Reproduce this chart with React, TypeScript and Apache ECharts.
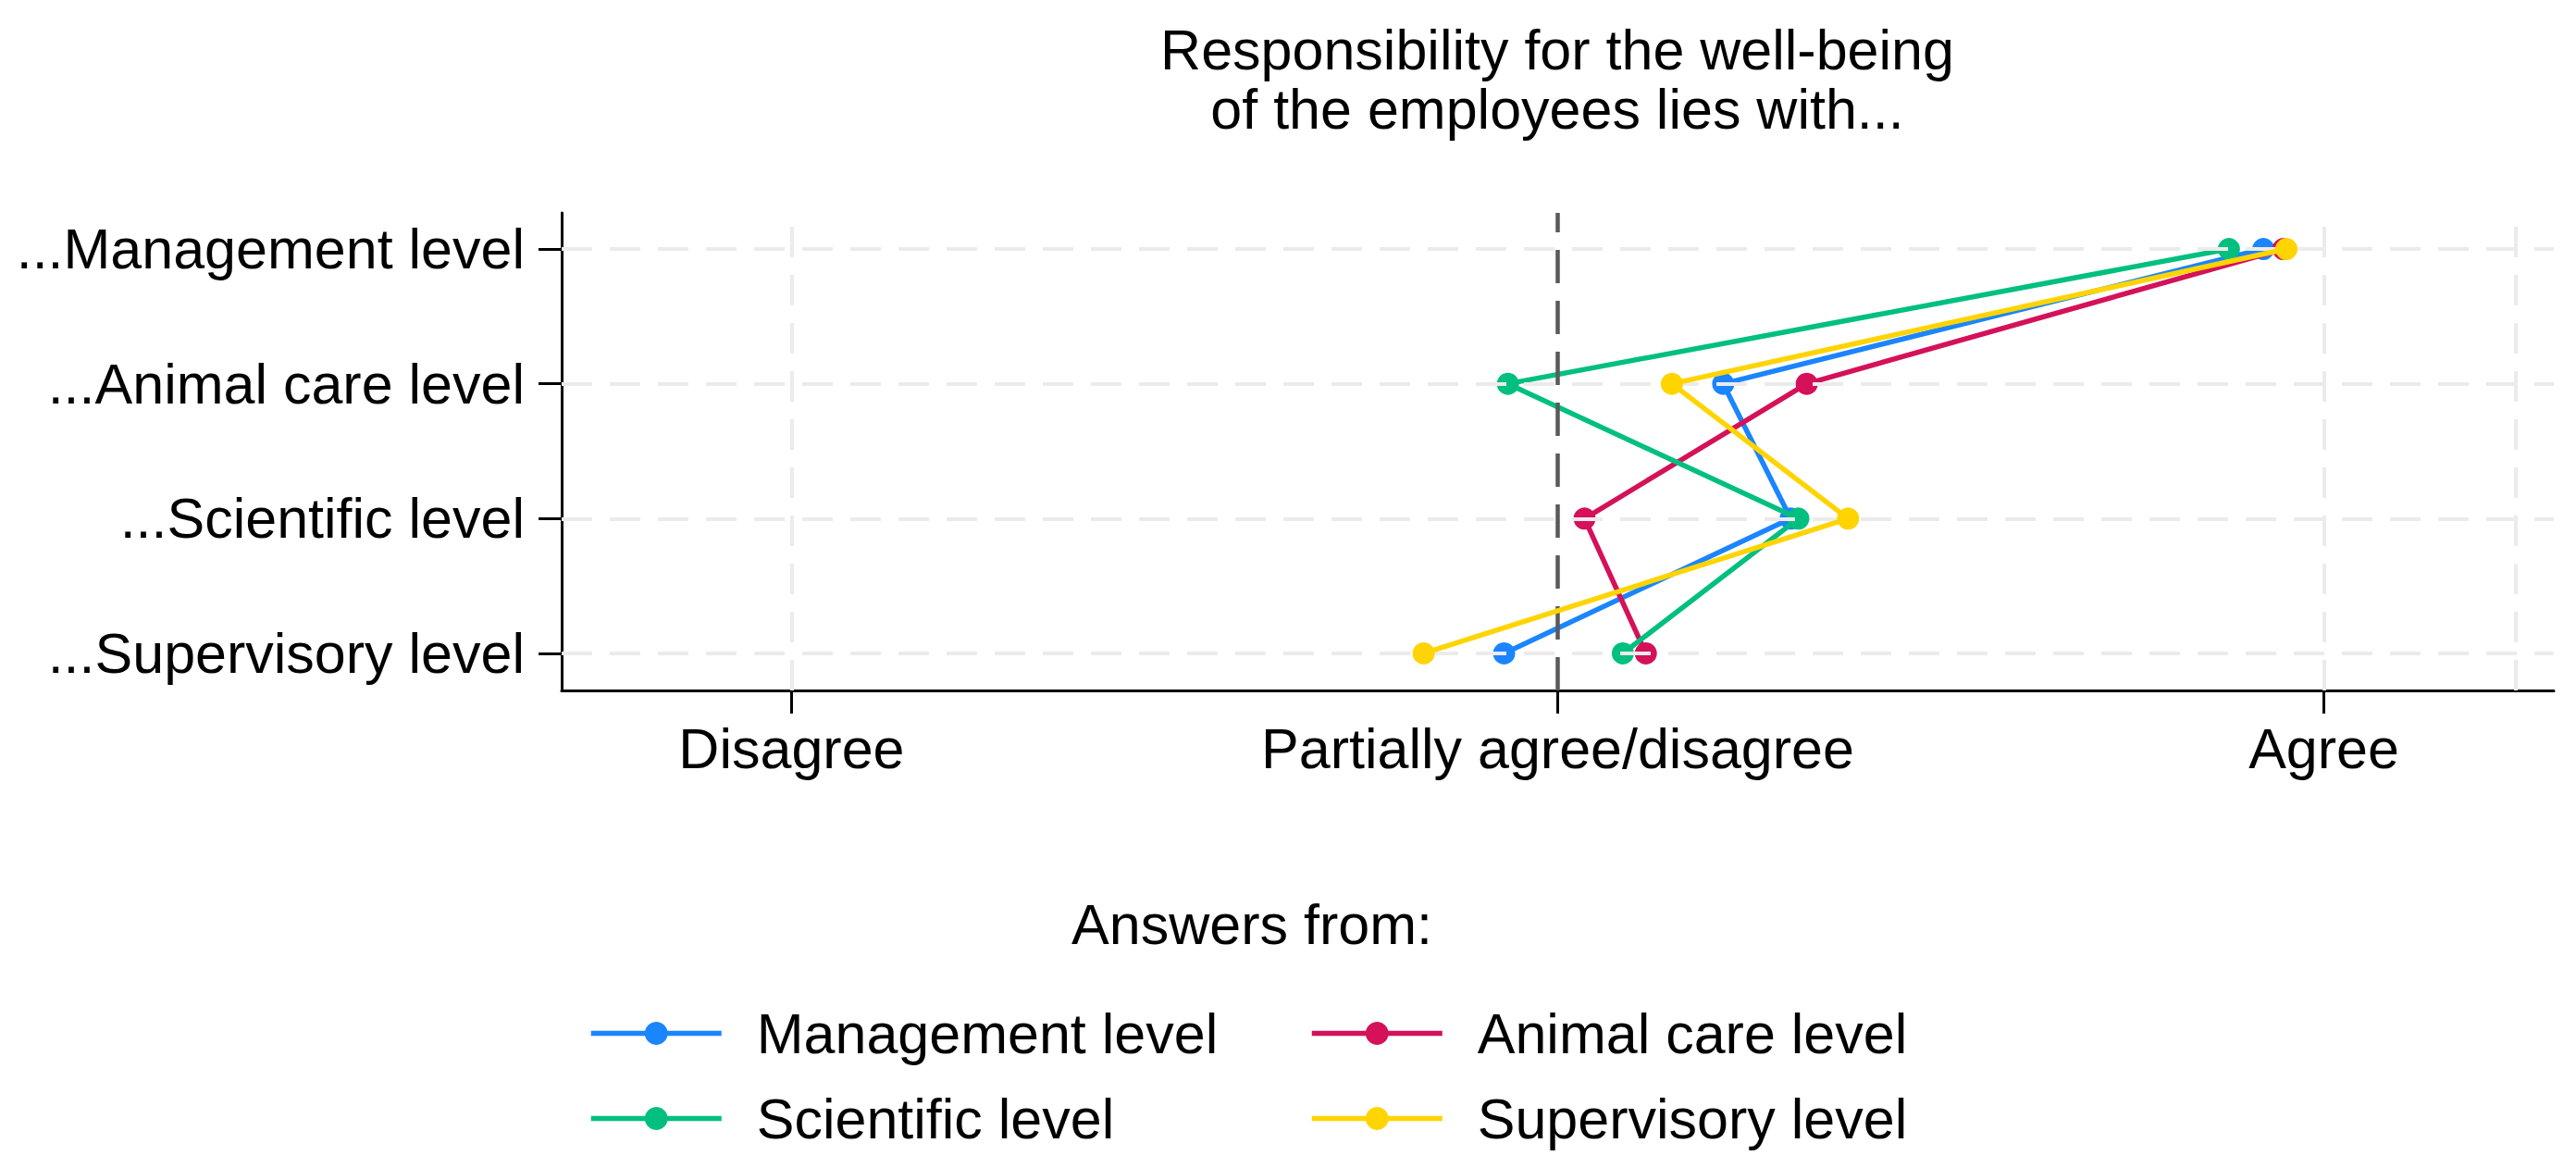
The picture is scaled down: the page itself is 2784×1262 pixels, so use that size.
import React, { useEffect, useRef } from "react";
import * as echarts from "echarts";

// Categories (top to bottom on the y axis)
const LEVELS = [
  "...Management level",
  "...Animal care level",
  "...Scientific level",
  "...Supervisory level",
];

// x-axis tick labels (values 1, 2, 3)
const X_TICK_LABELS = ["Disagree", "Partially agree/disagree", "Agree"];

// Series names (legend)
const SERIES_NAMES = [
  "Management level",
  "Animal care level",
  "Scientific level",
  "Supervisory level",
];

// Mean answers per respondent group, in LEVELS order
const MANAGEMENT = [2.921, 2.216, 2.304, 1.93];
const ANIMAL_CARE = [2.947, 2.325, 2.035, 2.115];
const SCIENTIFIC = [2.876, 1.935, 2.314, 2.085];
const SUPERVISORY = [2.951, 2.149, 2.379, 1.825];

// vertical grid lines and reference line on the x scale
const X_GRID = [1, 3, 3.25];
const X_REF = 2;

const COLORS = ["#1a85ff", "#d41159", "#00bf7f", "#ffd400"];
const FONT = "'Liberation Sans', Arial, Helvetica, sans-serif";

const X_MIN = 0.7;
const X_MAX = 3.3;
const Y_MIN = 0.725;
const Y_MAX = 4.268;

export default function App() {
  const ref = useRef<HTMLDivElement>(null);

  useEffect(() => {
    document.body.style.margin = "0";
    document.body.style.overflow = "hidden";
    if (!ref.current) return;
    const chart = echarts.init(ref.current, null, { renderer: "svg" });

    const n = LEVELS.length;
    const levelY = (i: number) => n - i;
    const toData = (vals: number[]) => vals.map((v, i) => [v, levelY(i)]);

    const gridStyle = { color: "#ebebeb", width: 4, type: [33, 19] as any };

    const markData: any[] = [];
    // horizontal grid lines at each level
    LEVELS.forEach((_, i) => {
      markData.push([
        { coord: [X_MIN, levelY(i)], lineStyle: gridStyle },
        { coord: [X_MAX, levelY(i)] },
      ]);
    });
    // vertical grid lines
    X_GRID.forEach((x) => {
      markData.push([
        { coord: [x, Y_MIN], lineStyle: gridStyle },
        { coord: [x, Y_MAX] },
      ]);
    });
    // reference line
    markData.push([
      {
        coord: [X_REF, Y_MIN],
        lineStyle: { color: "#5a5a5a", width: 4.5, type: [36, 19] as any },
      },
      { coord: [X_REF, Y_MAX] },
    ]);

    const seriesVals = [MANAGEMENT, ANIMAL_CARE, SCIENTIFIC, SUPERVISORY];

    const legendCommon = {
      orient: "vertical" as const,
      top: 1086,
      padding: 0,
      itemGap: 31,
      itemWidth: 141,
      itemHeight: 31,
      selectedMode: false,
      lineStyle: { width: 5.5 },
      textStyle: {
        fontSize: 61,
        lineHeight: 61,
        fontFamily: FONT,
        color: "#000",
        padding: [0, 0, 0, 33],
      },
    };

    const option: any = {
      animation: false,
      backgroundColor: "#ffffff",
      textStyle: { fontFamily: FONT },
      grid: { left: 607, right: 24, top: 230, bottom: 516, containLabel: false },
      graphic: [
        {
          type: "text",
          x: 1683,
          y: 22,
          style: {
            text: "Responsibility for the well-being\nof the employees lies with...",
            fontSize: 61,
            lineHeight: 64,
            fontFamily: FONT,
            fill: "#000",
            align: "center",
            verticalAlign: "top",
          },
        },
        {
          type: "text",
          x: 1353,
          y: 968,
          style: {
            text: "Answers from:",
            fontSize: 61,
            lineHeight: 61,
            fontFamily: FONT,
            fill: "#000",
            align: "center",
            verticalAlign: "top",
          },
        },
      ],
      legend: [
        { ...legendCommon, left: 636, data: [SERIES_NAMES[0], SERIES_NAMES[2]] },
        { ...legendCommon, left: 1415, data: [SERIES_NAMES[1], SERIES_NAMES[3]] },
      ],
      xAxis: {
        type: "value",
        min: X_MIN,
        max: X_MAX,
        axisLine: { show: true, lineStyle: { color: "#000", width: 3 } },
        axisTick: {
          show: true,
          length: 25,
          lineStyle: { color: "#000", width: 3 },
          customValues: [1, 2, 3],
        },
        axisLabel: {
          show: true,
          customValues: [1, 2, 3],
          formatter: (v: number) => X_TICK_LABELS[Math.round(v) - 1] ?? "",
          fontSize: 61,
          lineHeight: 61,
          color: "#000",
          fontFamily: FONT,
          margin: 32,
        },
        splitLine: { show: false },
      },
      yAxis: {
        type: "value",
        min: Y_MIN,
        max: Y_MAX,
        axisLine: { show: true, lineStyle: { color: "#000", width: 3 } },
        axisTick: {
          show: true,
          length: 25,
          lineStyle: { color: "#000", width: 3 },
          customValues: LEVELS.map((_, i) => levelY(i)),
        },
        axisLabel: {
          show: true,
          customValues: LEVELS.map((_, i) => levelY(i)),
          formatter: (v: number) => LEVELS[n - Math.round(v)] ?? "",
          fontSize: 61,
          color: "#000",
          fontFamily: FONT,
          margin: 40,
        },
        splitLine: { show: false },
      },
      series: [
        {
          name: "grid",
          type: "line",
          data: [],
          z: 1,
          silent: true,
          markLine: {
            silent: true,
            symbol: ["none", "none"],
            label: { show: false },
            emphasis: { disabled: true },
            data: markData,
          },
        },
        ...SERIES_NAMES.map((name, k) => ({
          name,
          type: "line",
          data: toData(seriesVals[k]),
          z: 2 + k,
          color: COLORS[k],
          symbol: "circle",
          symbolSize: 24,
          showSymbol: true,
          lineStyle: { width: 5.5, color: COLORS[k] },
          itemStyle: { color: COLORS[k] },
          emphasis: { disabled: true },
        })),
      ],
    };

    chart.setOption(option);
    return () => chart.dispose();
  }, []);

  return <div ref={ref} style={{ width: 2784, height: 1262 }} />;
}
